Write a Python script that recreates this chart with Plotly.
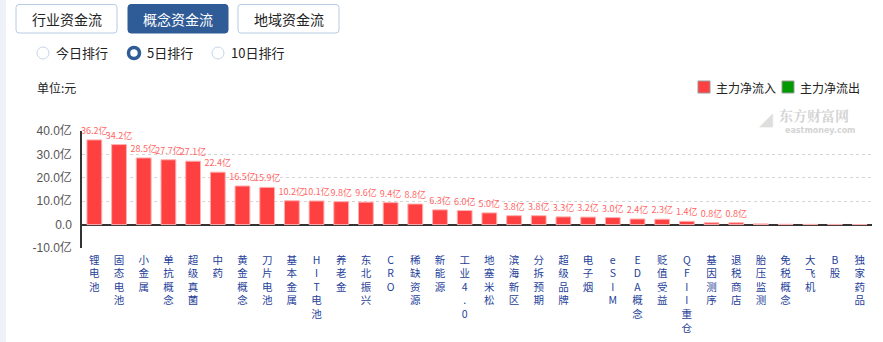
import plotly.graph_objects as go

categories = ["锂电池", "固态电池", "小金属", "单抗概念", "超级真菌", "中药", "黄金概念", "刀片电池",
              "基本金属", "HIT电池", "养老金", "东北振兴", "CRO", "稀缺资源", "新能源", "工业4.0",
              "地塞米松", "滨海新区", "分拆预期", "超级品牌", "电子烟", "eSIM", "EDA概念", "贬值受益",
              "QFII重仓", "基因测序", "退税商店", "胎压监测", "免税概念", "大飞机", "B股", "独家药品"]
inflow = [36.2, 34.2, 28.5, 27.7, 27.1, 22.4, 16.5, 15.9,
          10.2, 10.1, 9.8, 9.6, 9.4, 8.8, 6.3, 6.0,
          5.0, 3.8, 3.8, 3.3, 3.2, 3.0, 2.4, 2.3,
          1.4, 0.8, 0.8, 0.3, 0.15, 0.1, 0.08, 0.05]
show_label = [True] * 27 + [False] * 5
y_ticks = [-10, 0, 10, 20, 30, 40]
y_ticktext = ["-10.0亿", "0.0", "10.0亿", "20.0亿", "30.0亿", "40.0亿"]

W, H = 883, 342
L, R, T, B = 82, 872, 131, 248
FONT = "Noto Sans CJK SC"

def px(x):
    return (x - L) / (R - L)

def py(y):
    return (B - y) / (B - T)

texts = [f"{v:.1f}亿" if s else "" for v, s in zip(inflow, show_label)]
ticktext = ["<br>".join(list(c)) for c in categories]

fig = go.Figure()
fig.add_trace(go.Bar(
    x=categories, y=inflow, text=texts, textposition="outside",
    textfont=dict(size=9, color="#ff6666", family=FONT),
    constraintext="none", cliponaxis=False,
    marker=dict(color="#ff4040", line=dict(color="#ffb0b0", width=1)),
    hoverinfo="skip", showlegend=False,
))

shapes = []
annotations = []

def rrect(x0, y0, x1, y1, r, fill, line):
    path = (f"M{px(x0+r)},{py(y0)} L{px(x1-r)},{py(y0)} Q{px(x1)},{py(y0)} {px(x1)},{py(y0+r)} "
            f"L{px(x1)},{py(y1-r)} Q{px(x1)},{py(y1)} {px(x1-r)},{py(y1)} "
            f"L{px(x0+r)},{py(y1)} Q{px(x0)},{py(y1)} {px(x0)},{py(y1-r)} "
            f"L{px(x0)},{py(y0+r)} Q{px(x0)},{py(y0)} {px(x0+r)},{py(y0)} Z")
    shapes.append(dict(type="path", xref="paper", yref="paper", path=path,
                       fillcolor=fill, line=dict(color=line, width=1), layer="above"))

def text(x, y, s, size=12, color="#333", xanchor="left", family=FONT):
    annotations.append(dict(x=px(x), y=py(y), xref="paper", yref="paper", text=s,
                            showarrow=False, xanchor=xanchor, yanchor="middle", borderpad=0,
                            font=dict(size=size, color=color, family=family)))

# left strip
shapes.append(dict(type="rect", xref="paper", yref="paper", x0=px(0), x1=px(6), y0=py(0), y1=py(H),
                   fillcolor="#eef1f7", line=dict(width=0), layer="below"))

# tab buttons
buttons = [("行业资金流", 16, 117, False), ("概念资金流", 128, 228, True), ("地域资金流", 238, 339, False)]
for label, x0, x1, active in buttons:
    rrect(x0, 4.5, x1, 33, 3, "#2f5b96" if active else "#ffffff", "#2f5b96" if active else "#b8cce4")
    text((x0 + x1) / 2, 19, label, size=14, color="#ffffff" if active else "#222", xanchor="center")

# radio buttons
radios = [("今日排行", 43, False), ("5日排行", 134, True), ("10日排行", 218, False)]
for label, cx, on in radios:
    if on:
        shapes.append(dict(type="circle", xref="paper", yref="paper", x0=px(cx-5.5), x1=px(cx+5.5),
                           y0=py(53-5.5), y1=py(53+5.5), fillcolor="#ffffff",
                           line=dict(color="#2f5b96", width=3.5), layer="above"))
    else:
        shapes.append(dict(type="circle", xref="paper", yref="paper", x0=px(cx-6), x1=px(cx+6),
                           y0=py(53-6), y1=py(53+6), fillcolor="#ffffff",
                           line=dict(color="#c4d6ea", width=1), layer="above"))
    text(cx + 12, 53, label, size=13, color="#222")

text(36, 87, "单位:元", size=12, color="#222")

# legend
for lab, x0, col in [("主力净流入", 698, "#ff4040"), ("主力净流出", 782, "#009900")]:
    shapes.append(dict(type="rect", xref="paper", yref="paper", x0=px(x0), x1=px(x0+12),
                       y0=py(81), y1=py(93), fillcolor=col, line=dict(color="#999", width=1), layer="above"))
    text(x0 + 17, 87, lab, size=12, color="#222")

# watermark
text(814, 115, "<b>东方财富网</b>", size=14, color="#d4d4d4", xanchor="center", family="Noto Serif CJK SC, serif")
text(820, 130, "<b>eastmoney.com</b>", size=8, color="#d4d4d4", xanchor="center", family="DejaVu Sans")
text(766, 118, "◢", size=18, color="#dedede", xanchor="center", family="DejaVu Sans")

fig.update_layout(
    width=W, height=H,
    margin=dict(l=L, r=W - R, t=T, b=H - B, pad=0, autoexpand=False),
    paper_bgcolor="#ffffff", plot_bgcolor="#ffffff",
    bargap=0.4,
    font=dict(family=FONT),
    shapes=shapes, annotations=annotations,
    xaxis=dict(tickmode="array", tickvals=categories, ticktext=ticktext,
               tickfont=dict(size=10.5, color="#1f3f9a", family=FONT), tickangle=0,
               showgrid=False, showline=False, ticks="", ticklabelstandoff=4,
               range=[-0.5, len(categories) - 0.5], fixedrange=True, automargin=False),
    yaxis=dict(range=[-10, 40], tickmode="array", tickvals=y_ticks, ticktext=y_ticktext,
               tickfont=dict(size=12, color="#555", family="Liberation Sans, " + FONT),
               showgrid=True, gridcolor="#d4d4d4", griddash="dot", gridwidth=1,
               zeroline=True, zerolinecolor="#333", zerolinewidth=1.5,
               showline=True, linecolor="#333", linewidth=1.5, ticks="", ticklabelstandoff=6,
               fixedrange=True, automargin=False),
)

fig.write_html("out.html", config={"displayModeBar": False})
